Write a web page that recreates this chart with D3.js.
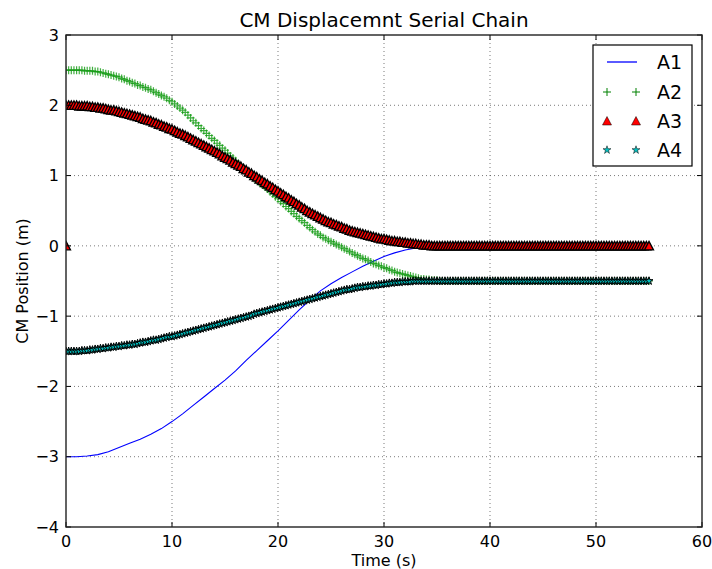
<!DOCTYPE html>
<html>
<head>
<meta charset="utf-8">
<script src="https://cdn.jsdelivr.net/npm/d3@7"></script>
<style>
  body { margin: 0; background: #fff; }
  svg { font-family: "DejaVu Sans", sans-serif; }
</style>
</head>
<body>
<svg id="chart" width="712" height="569"></svg>
<script>
// A1 is a plain line, sampled once a second
const a1Time = [0,1,2,3,4,5,6,7,8,9,10,11,12,13,14,15,16,17,18,19,20,21,22,23,24,25,26,27,28,29,30,31,32,33,34,35,55];
const a1 = [-3.00,-3.00,-2.99,-2.97,-2.93,-2.87,-2.81,-2.75,-2.68,-2.60,-2.50,-2.39,-2.27,-2.15,-2.03,-1.91,-1.78,-1.63,-1.49,-1.35,
  -1.21,-1.06,-0.91,-0.77,-0.64,-0.54,-0.45,-0.37,-0.29,-0.22,-0.15,-0.10,-0.06,-0.03,-0.01,0.00,0.00];

// marker series share one time base (every 0.25 s)
const time = [
  0,0.25,0.5,0.75,1,1.25,1.5,1.75,2,2.25,2.5,2.75,3,3.25,3.5,3.75,4,4.25,4.5,4.75,
  5,5.25,5.5,5.75,6,6.25,6.5,6.75,7,7.25,7.5,7.75,8,8.25,8.5,8.75,9,9.25,9.5,9.75,
  10,10.25,10.5,10.75,11,11.25,11.5,11.75,12,12.25,12.5,12.75,13,13.25,13.5,13.75,14,14.25,14.5,14.75,
  15,15.25,15.5,15.75,16,16.25,16.5,16.75,17,17.25,17.5,17.75,18,18.25,18.5,18.75,19,19.25,19.5,19.75,
  20,20.25,20.5,20.75,21,21.25,21.5,21.75,22,22.25,22.5,22.75,23,23.25,23.5,23.75,24,24.25,24.5,24.75,
  25,25.25,25.5,25.75,26,26.25,26.5,26.75,27,27.25,27.5,27.75,28,28.25,28.5,28.75,29,29.25,29.5,29.75,
  30,30.25,30.5,30.75,31,31.25,31.5,31.75,32,32.25,32.5,32.75,33,33.25,33.5,33.75,34,34.25,34.5,34.75,
  35,35.25,35.5,35.75,36,36.25,36.5,36.75,37,37.25,37.5,37.75,38,38.25,38.5,38.75,39,39.25,39.5,39.75,
  40,40.25,40.5,40.75,41,41.25,41.5,41.75,42,42.25,42.5,42.75,43,43.25,43.5,43.75,44,44.25,44.5,44.75,
  45,45.25,45.5,45.75,46,46.25,46.5,46.75,47,47.25,47.5,47.75,48,48.25,48.5,48.75,49,49.25,49.5,49.75,
  50,50.25,50.5,50.75,51,51.25,51.5,51.75,52,52.25,52.5,52.75,53,53.25,53.5,53.75,54,54.25,54.5,54.75,
  55];

const a2 = [
  2.50,2.50,2.50,2.50,2.50,2.50,2.50,2.49,2.49,2.49,2.49,2.48,2.48,2.47,2.46,2.45,2.44,2.43,2.42,2.41,
  2.40,2.38,2.37,2.35,2.34,2.32,2.31,2.29,2.28,2.26,2.25,2.23,2.22,2.20,2.18,2.16,2.14,2.12,2.10,2.07,
  2.05,2.02,1.99,1.96,1.93,1.90,1.86,1.82,1.78,1.75,1.71,1.67,1.64,1.60,1.57,1.53,1.50,1.46,1.43,1.39,
  1.36,1.32,1.28,1.25,1.21,1.17,1.13,1.10,1.06,1.02,0.99,0.96,0.93,0.90,0.87,0.84,0.81,0.77,0.74,0.70,
  0.67,0.63,0.60,0.56,0.53,0.49,0.46,0.42,0.39,0.36,0.33,0.29,0.26,0.23,0.20,0.17,0.15,0.12,0.10,0.08,
  0.06,0.04,0.02,0.00,-0.02,-0.04,-0.06,-0.08,-0.10,-0.12,-0.14,-0.16,-0.18,-0.19,-0.21,-0.23,-0.25,-0.26,-0.28,-0.29,
  -0.31,-0.32,-0.34,-0.35,-0.37,-0.38,-0.39,-0.40,-0.41,-0.42,-0.43,-0.44,-0.45,-0.46,-0.47,-0.47,-0.48,-0.48,-0.49,-0.49,
  -0.49,-0.50,-0.50,-0.50,-0.50,-0.50,-0.50,-0.50,-0.50,-0.50,-0.50,-0.50,-0.50,-0.50,-0.50,-0.50,-0.50,-0.50,-0.50,-0.50,
  -0.50,-0.50,-0.50,-0.50,-0.50,-0.50,-0.50,-0.50,-0.50,-0.50,-0.50,-0.50,-0.50,-0.50,-0.50,-0.50,-0.50,-0.50,-0.50,-0.50,
  -0.50,-0.50,-0.50,-0.50,-0.50,-0.50,-0.50,-0.50,-0.50,-0.50,-0.50,-0.50,-0.50,-0.50,-0.50,-0.50,-0.50,-0.50,-0.50,-0.50,
  -0.50,-0.50,-0.50,-0.50,-0.50,-0.50,-0.50,-0.50,-0.50,-0.50,-0.50,-0.50,-0.50,-0.50,-0.50,-0.50,-0.50,-0.50,-0.50,-0.50,
  -0.50];

const a3 = [
  2.00,2.00,2.00,2.00,2.00,1.99,1.99,1.99,1.99,1.98,1.98,1.97,1.97,1.96,1.96,1.95,1.94,1.93,1.93,1.92,
  1.91,1.90,1.89,1.88,1.87,1.86,1.85,1.84,1.83,1.81,1.80,1.79,1.78,1.76,1.75,1.73,1.72,1.70,1.69,1.67,
  1.66,1.64,1.62,1.60,1.59,1.57,1.55,1.53,1.51,1.49,1.47,1.45,1.43,1.41,1.39,1.37,1.35,1.33,1.31,1.28,
  1.26,1.24,1.22,1.19,1.17,1.15,1.13,1.10,1.08,1.05,1.03,1.00,0.98,0.95,0.93,0.90,0.88,0.85,0.83,0.80,
  0.78,0.75,0.73,0.70,0.68,0.65,0.63,0.60,0.58,0.55,0.53,0.50,0.48,0.46,0.44,0.42,0.40,0.38,0.36,0.34,
  0.33,0.31,0.30,0.28,0.27,0.25,0.24,0.22,0.21,0.20,0.19,0.18,0.17,0.16,0.15,0.14,0.13,0.12,0.11,0.10,
  0.10,0.09,0.08,0.07,0.07,0.06,0.06,0.05,0.05,0.04,0.04,0.03,0.03,0.02,0.02,0.01,0.01,0.01,0,0,
  0,0,0,0,0,0,0,0,0,0,0,0,0,0,0,0,0,0,0,0,
  0,0,0,0,0,0,0,0,0,0,0,0,0,0,0,0,0,0,0,0,
  0,0,0,0,0,0,0,0,0,0,0,0,0,0,0,0,0,0,0,0,
  0,0,0,0,0,0,0,0,0,0,0,0,0,0,0,0,0,0,0,0,
  0];
// stray A3 point sitting on the y axis
const a3Extra = [[0, 0]];

const a4 = [
  -1.50,-1.50,-1.50,-1.50,-1.50,-1.50,-1.49,-1.49,-1.49,-1.48,-1.48,-1.47,-1.47,-1.46,-1.46,-1.45,-1.45,-1.44,-1.44,-1.43,
  -1.43,-1.42,-1.42,-1.41,-1.41,-1.40,-1.40,-1.39,-1.38,-1.37,-1.37,-1.36,-1.35,-1.34,-1.34,-1.33,-1.32,-1.31,-1.30,-1.29,
  -1.29,-1.28,-1.27,-1.26,-1.25,-1.24,-1.23,-1.22,-1.21,-1.20,-1.19,-1.18,-1.17,-1.16,-1.15,-1.14,-1.13,-1.12,-1.11,-1.10,
  -1.09,-1.08,-1.07,-1.06,-1.05,-1.04,-1.03,-1.02,-1.01,-1.00,-0.99,-0.97,-0.96,-0.95,-0.94,-0.93,-0.92,-0.91,-0.90,-0.89,
  -0.88,-0.87,-0.86,-0.85,-0.84,-0.83,-0.82,-0.81,-0.80,-0.79,-0.78,-0.77,-0.76,-0.75,-0.74,-0.73,-0.72,-0.71,-0.70,-0.69,
  -0.68,-0.67,-0.66,-0.65,-0.64,-0.63,-0.62,-0.62,-0.61,-0.60,-0.59,-0.59,-0.58,-0.58,-0.57,-0.57,-0.56,-0.56,-0.55,-0.55,
  -0.54,-0.54,-0.53,-0.53,-0.52,-0.52,-0.52,-0.51,-0.51,-0.51,-0.51,-0.50,-0.50,-0.50,-0.50,-0.50,-0.50,-0.50,-0.50,-0.50,
  -0.50,-0.50,-0.50,-0.50,-0.50,-0.50,-0.50,-0.50,-0.50,-0.50,-0.50,-0.50,-0.50,-0.50,-0.50,-0.50,-0.50,-0.50,-0.50,-0.50,
  -0.50,-0.50,-0.50,-0.50,-0.50,-0.50,-0.50,-0.50,-0.50,-0.50,-0.50,-0.50,-0.50,-0.50,-0.50,-0.50,-0.50,-0.50,-0.50,-0.50,
  -0.50,-0.50,-0.50,-0.50,-0.50,-0.50,-0.50,-0.50,-0.50,-0.50,-0.50,-0.50,-0.50,-0.50,-0.50,-0.50,-0.50,-0.50,-0.50,-0.50,
  -0.50,-0.50,-0.50,-0.50,-0.50,-0.50,-0.50,-0.50,-0.50,-0.50,-0.50,-0.50,-0.50,-0.50,-0.50,-0.50,-0.50,-0.50,-0.50,-0.50,
  -0.50];

const xTicks = [0,10,20,30,40,50,60];
const yTicks = [-4,-3,-2,-1,0,1,2,3];
const legendNames = ["A1","A2","A3","A4"];

const svg = d3.select("#chart");
const pLeft = 66, pRight = 702, pTop = 35, pBottom = 527;

const x = d3.scaleLinear().domain([0, 60]).range([pLeft, pRight]);
const y = d3.scaleLinear().domain([-4, 3]).range([pBottom, pTop]);

svg.append("defs").append("clipPath").attr("id", "plotclip")
  .append("rect").attr("x", pLeft).attr("y", pTop)
  .attr("width", pRight - pLeft).attr("height", pBottom - pTop);

// grid
const grid = svg.append("g").attr("stroke", "#000").attr("stroke-width", 0.7)
  .attr("stroke-dasharray", "1,3").attr("opacity", 0.75);
grid.selectAll(".gx").data(xTicks.slice(1, -1)).join("line")
  .attr("x1", d => x(d)).attr("x2", d => x(d)).attr("y1", pTop).attr("y2", pBottom);
grid.selectAll(".gy").data(yTicks.slice(1, -1)).join("line")
  .attr("y1", d => y(d)).attr("y2", d => y(d)).attr("x1", pLeft).attr("x2", pRight);

const plot = svg.append("g").attr("clip-path", "url(#plotclip)");

// marker shapes
const plusPath = "M-4,0H4M0,-4V4";
const triPath = "M0,-4.5L4.5,4L-4.5,4Z";
const starPath = d3.symbol(d3.symbolStar, 20)();

const pairs = vals => time.map((t, i) => [t, vals[i]]).filter(d => d[1] !== undefined);

// A1
plot.append("path")
  .datum(a1Time.map((t, i) => [t, a1[i]]))
  .attr("fill", "none").attr("stroke", "#0000ff").attr("stroke-width", 1.1)
  .attr("d", d3.line().x(d => x(d[0])).y(d => y(d[1])));

// A2
plot.append("g").selectAll("path").data(pairs(a2)).join("path")
  .attr("transform", d => `translate(${x(d[0])},${y(d[1])})`)
  .attr("d", plusPath).attr("stroke", "#109a10").attr("stroke-width", 1.2).attr("stroke-opacity", 0.8);

// A3
plot.append("g").selectAll("path").data(a3Extra.concat(pairs(a3))).join("path")
  .attr("transform", d => `translate(${x(d[0])},${y(d[1])})`)
  .attr("d", triPath).attr("fill", "#ff0000").attr("stroke", "#000").attr("stroke-width", 1.3);

// A4
plot.append("g").selectAll("path").data(pairs(a4)).join("path")
  .attr("transform", d => `translate(${x(d[0])},${y(d[1])})`)
  .attr("d", starPath).attr("fill", "#00bfbf").attr("stroke", "#000").attr("stroke-width", 1);

// frame and inner ticks
const tickLen = 5;
const ticks = svg.append("g").attr("stroke", "#000").attr("stroke-width", 1);
ticks.selectAll(".tb").data(xTicks).join("line")
  .attr("x1", d => x(d)).attr("x2", d => x(d)).attr("y1", pBottom).attr("y2", pBottom - tickLen);
ticks.selectAll(".tt").data(xTicks).join("line")
  .attr("x1", d => x(d)).attr("x2", d => x(d)).attr("y1", pTop).attr("y2", pTop + tickLen);
ticks.selectAll(".tl").data(yTicks).join("line")
  .attr("y1", d => y(d)).attr("y2", d => y(d)).attr("x1", pLeft).attr("x2", pLeft + tickLen);
ticks.selectAll(".tr").data(yTicks).join("line")
  .attr("y1", d => y(d)).attr("y2", d => y(d)).attr("x1", pRight).attr("x2", pRight - tickLen);

svg.append("rect").attr("x", pLeft).attr("y", pTop)
  .attr("width", pRight - pLeft).attr("height", pBottom - pTop)
  .attr("fill", "none").attr("stroke", "#222").attr("stroke-width", 1.4);

// tick labels
const fmt = d => d < 0 ? "\u2212" + Math.abs(d) : String(d);
svg.append("g").selectAll("text").data(xTicks).join("text")
  .attr("x", d => x(d)).attr("y", pBottom + 20).attr("text-anchor", "middle")
  .attr("font-size", 16).text(fmt);
svg.append("g").selectAll("text").data(yTicks).join("text")
  .attr("x", pLeft - 7).attr("y", d => y(d)).attr("dy", "0.36em").attr("text-anchor", "end")
  .attr("font-size", 16).text(fmt);

// titles
svg.append("text").attr("x", (pLeft + pRight) / 2).attr("y", 27).attr("text-anchor", "middle")
  .attr("font-size", 20).text("CM Displacemnt Serial Chain");
svg.append("text").attr("x", (pLeft + pRight) / 2).attr("y", 566).attr("text-anchor", "middle")
  .attr("font-size", 16).text("Time (s)");
svg.append("text").attr("transform", `translate(28,${(pTop + pBottom) / 2}) rotate(-90)`)
  .attr("text-anchor", "middle").attr("font-size", 16).text("CM Position (m)");

// legend
const lg = svg.append("g");
lg.append("rect").attr("x", 593).attr("y", 45).attr("width", 99).attr("height", 121)
  .attr("fill", "#fff").attr("stroke", "#000").attr("stroke-width", 1.2);
const rowY = [62, 92, 121, 150];
lg.append("line").attr("x1", 607).attr("x2", 637).attr("y1", rowY[0]).attr("y2", rowY[0])
  .attr("stroke", "#0000ff").attr("stroke-width", 1.3);
[607, 636].forEach(px => {
  lg.append("path").attr("transform", `translate(${px},${rowY[1]})`).attr("d", plusPath)
    .attr("stroke", "#008000").attr("stroke-width", 1);
  lg.append("path").attr("transform", `translate(${px},${rowY[2]})`).attr("d", triPath)
    .attr("fill", "#ff0000").attr("stroke", "#000").attr("stroke-width", 0.5);
  lg.append("path").attr("transform", `translate(${px},${rowY[3]})`).attr("d", starPath)
    .attr("fill", "#00bfbf").attr("stroke", "#000").attr("stroke-width", 0.5);
});
lg.selectAll("text").data(legendNames).join("text")
  .attr("x", 657).attr("y", (d, i) => rowY[i]).attr("dy", "0.36em")
  .attr("font-size", 19).text(d => d);
</script>
</body>
</html>
